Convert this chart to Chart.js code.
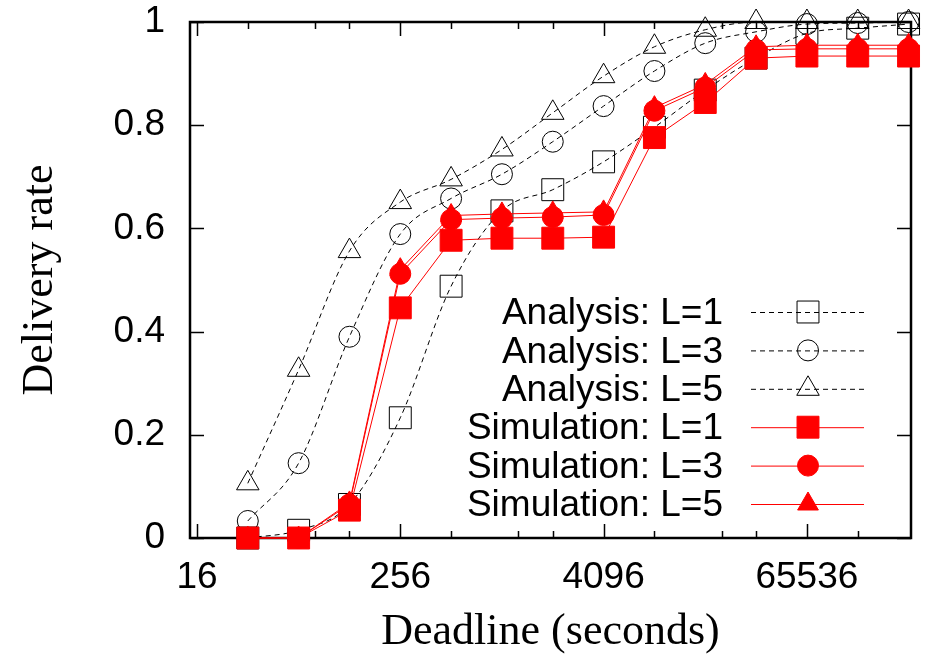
<!DOCTYPE html>
<html>
<head>
<meta charset="utf-8">
<script src="https://cdn.jsdelivr.net/npm/chart.js@4/dist/chart.umd.min.js"></script>
<style>
  html, body { margin: 0; padding: 0; background: #fff; }
</style>
</head>
<body>
<canvas id="deliveryChart" width="932" height="657"></canvas>
<script>
// Deadline values (seconds) and delivery rates
const deadlines = [32, 64, 128, 256, 512, 1024, 2048, 4096, 8192, 16384, 32768, 65536, 131072, 262144];
const analysisL1 = [0.0, 0.015, 0.065, 0.233, 0.488, 0.634, 0.675, 0.729, 0.796, 0.868, 0.93, 0.978, 0.988, 0.996];
const analysisL3 = [0.033, 0.145, 0.39, 0.589, 0.658, 0.705, 0.768, 0.837, 0.905, 0.959, 0.981, 0.996, 0.998, 1.0];
const analysisL5 = [0.106, 0.326, 0.556, 0.651, 0.695, 0.753, 0.824, 0.895, 0.952, 0.985, 1.0, 1.0, 1.0, 1.0];
const simL1 = [0.0, 0.0, 0.054, 0.446, 0.577, 0.581, 0.581, 0.583, 0.776, 0.844, 0.93, 0.934, 0.934, 0.934];
const simL3 = [0.0, 0.0, 0.065, 0.512, 0.617, 0.62, 0.622, 0.626, 0.828, 0.873, 0.946, 0.948, 0.948, 0.948];
const simL5 = [0.0, 0.0, 0.068, 0.52, 0.625, 0.628, 0.63, 0.632, 0.834, 0.879, 0.952, 0.955, 0.955, 0.955];

// Axis ticks
const xMajorTicks = [16, 256, 4096, 65536];
const xMinorTicks = [32, 80, 128, 512, 1280, 2048, 8192, 20480, 32768, 131072];
const yTicks = [0, 0.2, 0.4, 0.6, 0.8, 1];

const sansFont = "'Liberation Sans', Arial, Helvetica, sans-serif";
const serifFont = "'Liberation Serif', 'Times New Roman', serif";

function toPoints(values) {
    return deadlines.map((d, i) => ({ x: d, y: values[i] }));
}

function analysisSet(label, values, style, radius, order) {
    return {
        label: label,
        data: toPoints(values),
        borderColor: '#000',
        borderWidth: 1,
        borderDash: [5, 4],
        cubicInterpolationMode: 'monotone',
        pointStyle: style,
        pointRadius: radius,
        pointBackgroundColor: 'rgba(0,0,0,0)',
        pointBorderColor: '#000',
        pointBorderWidth: 1,
        clip: false,
        order: order
    };
}

function simulationSet(label, values, style, radius, order) {
    return {
        label: label,
        data: toPoints(values),
        borderColor: '#ff0000',
        borderWidth: 1,
        tension: 0,
        pointStyle: style,
        pointRadius: radius,
        pointBackgroundColor: '#ff0000',
        pointBorderColor: '#ff0000',
        pointBorderWidth: 1,
        clip: false,
        order: order
    };
}

// frame and inward tick marks, gnuplot style
const frameTicks = {
    id: 'frameTicks',
    beforeDatasetsDraw(chart) {
        const { ctx, chartArea: a, scales: { x, y } } = chart;
        ctx.save();
        ctx.strokeStyle = '#000';
        ctx.lineWidth = 1.5;
        ctx.beginPath();
        xMajorTicks.concat(xMinorTicks).forEach(v => {
            const px = Math.round(x.getPixelForValue(v)) + 0.5;
            const len = xMajorTicks.includes(v) ? 14 : 7;
            ctx.moveTo(px, a.bottom); ctx.lineTo(px, a.bottom - len);
            ctx.moveTo(px, a.top); ctx.lineTo(px, a.top + len);
        });
        yTicks.forEach(v => {
            const py = Math.round(y.getPixelForValue(v)) + 0.5;
            ctx.moveTo(a.left, py); ctx.lineTo(a.left + 14, py);
            ctx.moveTo(a.right, py); ctx.lineTo(a.right - 14, py);
        });
        ctx.stroke();
        ctx.lineWidth = 2.5;
        ctx.strokeRect(a.left, a.top, a.right - a.left, a.bottom - a.top);
        ctx.restore();
    }
};

// key in the lower right: text, then line sample with marker
const keyBox = {
    id: 'keyBox',
    afterDatasetsDraw(chart) {
        const ctx = chart.ctx;
        ctx.save();
        chart.data.datasets.forEach((ds, i) => {
            const rowY = 312 + i * 38.4;
            ctx.fillStyle = '#000';
            ctx.font = '37px ' + sansFont;
            ctx.textAlign = 'right';
            ctx.textBaseline = 'middle';
            ctx.fillText(ds.label, 723, rowY + 2);

            ctx.strokeStyle = ds.borderColor;
            ctx.lineWidth = ds.borderWidth;
            ctx.setLineDash(ds.borderDash || []);
            ctx.beginPath();
            ctx.moveTo(751, rowY + 0.5);
            ctx.lineTo(864, rowY + 0.5);
            ctx.stroke();
            ctx.setLineDash([]);

            ctx.fillStyle = ds.pointBackgroundColor;
            ctx.strokeStyle = ds.pointBorderColor;
            ctx.lineWidth = ds.pointBorderWidth;
            Chart.helpers.drawPoint(ctx, {
                pointStyle: ds.pointStyle,
                radius: ds.pointRadius,
                rotation: 0,
                borderWidth: ds.pointBorderWidth
            }, 808, rowY);
        });
        ctx.restore();
    }
};

const ctxDelivery = document.getElementById('deliveryChart').getContext('2d');
const deliveryChart = new Chart(ctxDelivery, {
    type: 'line',
    data: {
        datasets: [
            analysisSet('Analysis: L=1', analysisL1, 'rect', 15.5, 5),
            analysisSet('Analysis: L=3', analysisL3, 'circle', 10.5, 4),
            analysisSet('Analysis: L=5', analysisL5, 'triangle', 13, 3),
            simulationSet('Simulation: L=1', simL1, 'rect', 15.5, 2),
            simulationSet('Simulation: L=3', simL3, 'circle', 10.5, 1),
            simulationSet('Simulation: L=5', simL5, 'triangle', 12, 0)
        ]
    },
    options: {
        responsive: false,
        animation: false,
        layout: { autoPadding: false, padding: { top: 22, right: 21, left: 0, bottom: 0 } },
        plugins: {
            legend: { display: false },
            tooltip: { enabled: false }
        },
        scales: {
            x: {
                type: 'logarithmic',
                min: 14.55,
                max: 271000,
                afterBuildTicks: scale => {
                    scale.ticks = xMajorTicks.concat(xMinorTicks).sort((a, b) => a - b).map(v => ({ value: v }));
                },
                afterFit: scale => {
                    scale.height = 119;
                    scale.paddingLeft = 0;
                    scale.paddingRight = 0;
                },
                grid: { display: false, drawTicks: false },
                border: { display: false },
                ticks: {
                    autoSkip: false,
                    maxRotation: 0,
                    padding: 18,
                    color: '#000',
                    font: { family: sansFont, size: 37 },
                    callback: v => xMajorTicks.includes(v) ? String(v) : ''
                },
                title: {
                    display: true,
                    text: 'Deadline (seconds)',
                    color: '#000',
                    font: { family: serifFont, size: 44, lineHeight: 1 },
                    padding: { top: 0, bottom: 3 }
                }
            },
            y: {
                min: 0,
                max: 1,
                afterBuildTicks: scale => {
                    scale.ticks = yTicks.map(v => ({ value: v }));
                },
                afterFit: scale => {
                    scale.width = 190;
                    scale.paddingTop = 0;
                    scale.paddingBottom = 0;
                },
                grid: { display: false, drawTicks: false },
                border: { display: false },
                ticks: {
                    padding: 25,
                    color: '#000',
                    font: { family: sansFont, size: 37 },
                    callback: v => String(Math.round(v * 10) / 10)
                },
                title: {
                    display: true,
                    text: 'Delivery rate',
                    color: '#000',
                    font: { family: serifFont, size: 44, lineHeight: 1 },
                    padding: { top: 18, bottom: 0 }
                }
            }
        }
    },
    plugins: [frameTicks, keyBox]
});
</script>
</body>
</html>
